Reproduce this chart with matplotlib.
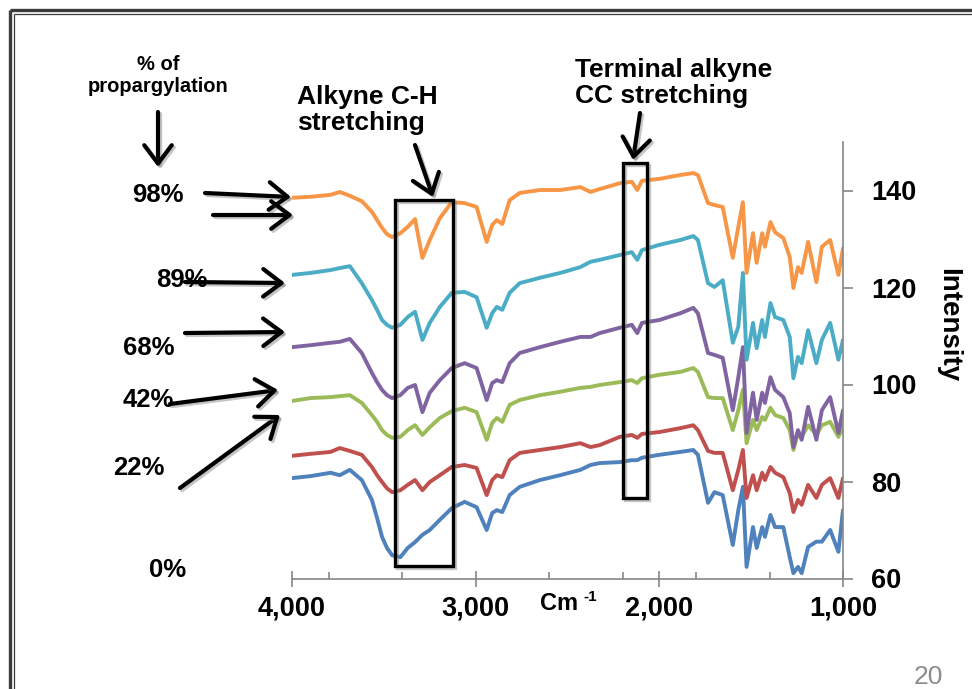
import matplotlib
matplotlib.use('Agg')
import matplotlib.pyplot as plt
import matplotlib.patheffects as pe
from matplotlib.patches import Rectangle, FancyArrowPatch
from matplotlib.lines import Line2D

# FTIR spectra of propargylated samples (wavenumber in cm-1, offset intensity)
wavenumber = [4000, 3900, 3790, 3740, 3685, 3620, 3565, 3537, 3510, 3483, 3455, 3410,
              3370, 3330, 3290, 3250, 3195, 3130, 3060, 2995, 2940, 2910,
              2885, 2855, 2815, 2760, 2650, 2540, 2430, 2375, 2325, 2215,
              2150, 2120, 2095, 2000, 1885, 1815, 1790, 1735, 1700, 1655,
              1600, 1570, 1545, 1525, 1490, 1470, 1440, 1425, 1395, 1370,
              1325, 1290, 1270, 1245, 1225, 1190, 1145, 1115, 1070, 1025, 1000]

spec_98 = [138.5, 138.7, 139.1, 139.7, 138.9, 137.8, 135.6, 133.9, 132.3, 131.0, 130.4, 131.2,
           132.5, 134.1, 126.1, 129.8, 134.3, 137.6, 137.4, 136.6, 129.4, 132.9,
           133.9, 133.1, 138.0, 139.5, 140.1, 140.1, 140.7, 139.7, 140.3, 141.5,
           141.8, 140.1, 142.0, 142.4, 143.2, 143.6, 143.2, 137.4, 137.0, 136.6,
           126.1, 132.5, 137.6, 123.0, 131.2, 125.1, 131.2, 128.4, 133.5, 131.4,
           130.2, 126.3, 119.9, 124.2, 123.0, 129.4, 121.1, 128.4, 129.8, 122.6, 128.1]

spec_89 = [122.6, 123.0, 123.6, 124.0, 124.4, 120.9, 117.4, 115.4, 113.3, 112.3, 111.7, 112.3,
           113.9, 115.0, 109.2, 112.7, 116.0, 118.9, 119.1, 118.0, 111.7, 114.7,
           116.0, 115.4, 118.9, 120.9, 122.0, 123.0, 124.2, 125.3, 125.7, 126.7,
           127.3, 125.7, 127.7, 128.8, 129.8, 130.6, 129.8, 120.9, 120.1, 121.5,
           108.6, 111.9, 123.0, 105.1, 112.7, 107.5, 113.3, 109.8, 116.8, 113.9,
           113.3, 109.8, 101.3, 105.7, 104.4, 111.2, 104.4, 109.2, 112.7, 105.1, 109.2]

spec_68 = [107.7, 108.1, 108.6, 108.8, 109.4, 106.5, 102.4, 100.5, 98.9, 97.8, 97.2, 97.8,
           99.3, 99.9, 94.3, 98.3, 100.9, 103.4, 104.4, 103.4, 96.8, 100.3,
           100.9, 100.5, 104.4, 106.5, 107.7, 108.8, 109.8, 109.8, 110.6, 111.7,
           112.3, 110.6, 112.7, 113.3, 114.7, 115.8, 114.7, 106.5, 106.1, 105.5,
           94.7, 101.5, 107.7, 90.0, 98.3, 92.7, 98.3, 96.2, 101.5, 98.9,
           97.4, 94.1, 87.1, 90.6, 88.6, 95.4, 88.6, 94.7, 97.4, 90.0, 94.7]

spec_42 = [96.6, 97.2, 97.4, 97.6, 97.8, 96.2, 93.7, 92.3, 90.6, 89.6, 89.0, 89.2,
           90.6, 91.6, 89.6, 91.2, 93.1, 94.5, 95.2, 94.3, 88.6, 92.1,
           93.1, 92.3, 95.8, 96.8, 97.8, 98.5, 99.3, 99.5, 99.9, 100.5,
           100.9, 100.3, 101.3, 102.0, 102.6, 103.4, 102.6, 97.4, 97.2, 97.2,
           90.6, 94.7, 98.9, 87.9, 92.7, 90.6, 93.3, 92.7, 95.2, 93.7,
           93.1, 90.6, 86.5, 90.0, 89.2, 91.6, 89.6, 91.6, 92.3, 89.2, 91.2]

spec_22 = [85.3, 85.7, 86.1, 86.9, 86.3, 85.5, 83.0, 81.3, 79.9, 78.6, 77.8, 78.2,
           79.3, 80.3, 78.2, 79.9, 81.3, 83.0, 83.4, 82.8, 77.2, 80.3,
           81.3, 80.9, 84.4, 85.9, 86.5, 87.1, 87.9, 87.1, 87.5, 89.2,
           89.6, 89.0, 89.8, 90.2, 91.0, 91.6, 90.6, 86.3, 85.9, 85.9,
           78.2, 82.4, 86.5, 76.6, 81.3, 78.2, 81.8, 80.3, 83.0, 81.8,
           80.9, 77.6, 73.7, 76.2, 75.2, 79.3, 76.6, 79.3, 80.7, 76.6, 80.7]

spec_0 = [80.7, 81.1, 81.8, 81.3, 82.4, 80.3, 76.2, 72.5, 68.6, 66.3, 64.8, 64.4,
          66.3, 67.5, 69.0, 70.0, 72.1, 74.5, 75.8, 74.7, 70.0, 73.5,
          74.1, 73.7, 77.2, 78.9, 80.3, 81.3, 82.4, 83.4, 83.8, 84.0,
          84.4, 84.4, 84.9, 85.5, 86.1, 86.5, 85.5, 75.6, 77.8, 77.2,
          66.9, 74.1, 78.9, 62.4, 70.6, 66.3, 70.6, 68.6, 73.1, 70.6,
          70.6, 64.4, 61.1, 62.4, 61.1, 66.5, 67.6, 67.6, 70.0, 65.5, 74.1]

series = [spec_0, spec_22, spec_42, spec_68, spec_89, spec_98]
colors = ['#4F81BD', '#C0504D', '#9BBB59', '#8064A2', '#4BACC6', '#F79646']
pct_labels = ['0%', '22%', '42%', '68%', '89%', '98%']

x_major = [4000, 3000, 2000, 1000]
x_major_labels = ['4,000', '3,000', '2,000', '1,000']
x_minor = [3800, 3400, 2600, 2200, 1800, 1400]
y_ticks = [60, 80, 100, 120, 140]

# highlighted bands: (wavenumber right, wavenumber left, intensity bottom, intensity top)
ch_band = (3125, 3440, 62.6, 138.0)
cc_band = (2065, 2200, 76.6, 145.7)

W, H = 972, 689


def fx(px):
    return px / W


def fy(py):
    return 1 - py / H


plt.rcParams['font.family'] = ['Liberation Sans', 'DejaVu Sans']

fig = plt.figure(figsize=(W / 100, H / 100), dpi=100)
ax = fig.add_axes([fx(292), fy(578.5), (843 - 292) / W, (578.5 - 142) / H])

for vals, color in zip(series, colors):
    ax.plot(wavenumber, vals, color=color, lw=2.8, solid_joinstyle='round',
            solid_capstyle='round')

ax.set_xlim(4000, 1000)
ax.set_ylim(60, 150)

axis_grey = '#868686'
for side in ['top', 'left']:
    ax.spines[side].set_visible(False)
for side in ['bottom', 'right']:
    ax.spines[side].set_color(axis_grey)
    ax.spines[side].set_linewidth(1.2)

ax.yaxis.tick_right()
ax.set_yticks(y_ticks)
ax.tick_params(axis='y', direction='out', length=7, width=1.2, color=axis_grey,
               labelsize=19.5, pad=13)
ax.set_xticks(x_major)
ax.set_xticklabels(x_major_labels)
ax.set_xticks(x_minor, minor=True)
ax.tick_params(axis='x', which='major', direction='inout', length=12, width=1.2,
               color=axis_grey, labelsize=19.5, pad=6)
ax.tick_params(axis='x', which='minor', direction='in', length=5, width=1.2,
               color=axis_grey)
for lbl in ax.get_xticklabels() + ax.get_yticklabels():
    lbl.set_fontweight('bold')

shadow = [pe.SimpleLineShadow(offset=(1.5, -1.5), shadow_color='#808080', alpha=0.45),
          pe.Normal()]

# boxes around the alkyne bands
for x_r, x_l, y_b, y_t in [ch_band, cc_band]:
    ax.add_patch(Rectangle((x_r, y_b), x_l - x_r, y_t - y_b, fill=False, ec='black',
                           lw=2.4, clip_on=False, zorder=5, path_effects=shadow))

fig.text(fx(559), fy(604), 'Cm', fontsize=17, fontweight='bold', ha='center', va='center')
fig.text(fx(590), fy(597), '-1', fontsize=11, fontweight='bold', ha='center', va='center')
fig.text(fx(948), fy(325), 'Intensity', fontsize=20, fontweight='bold', rotation=270,
         ha='center', va='center')

# annotation text
fig.text(fx(158), fy(64), '% of', fontsize=14.5, fontweight='bold', ha='center', va='center')
fig.text(fx(158), fy(87), 'propargylation', fontsize=14.5, fontweight='bold',
         ha='center', va='center')
fig.text(fx(297), fy(110), 'Alkyne C-H\nstretching', fontsize=19, fontweight='bold',
         ha='left', va='center', linespacing=1.1)
fig.text(fx(575), fy(83), 'Terminal alkyne\nCC stretching', fontsize=19, fontweight='bold',
         ha='left', va='center', linespacing=1.1)

pct_pos = [(168, 570), (139, 468), (148, 400), (149, 348), (182, 280), (158, 195)]
for lbl, (px, py) in zip(pct_labels, pct_pos):
    fig.text(fx(px), fy(py), lbl, fontsize=18.5, fontweight='bold', ha='center', va='center')


def arrow(x0, y0, x1, y1):
    fig.add_artist(FancyArrowPatch((fx(x0), fy(y0)), (fx(x1), fy(y1)),
                                   transform=fig.transFigure,
                                   arrowstyle='->,head_length=0.6,head_width=0.45',
                                   mutation_scale=22, lw=3, color='black',
                                   shrinkA=0, shrinkB=0, path_effects=shadow))


arrow(158, 112, 158, 167)
arrow(205, 193, 291, 197)
arrow(213, 215, 293, 215)
arrow(185, 282, 285, 283)
arrow(185, 333, 285, 332)
arrow(170, 404, 278, 390)
arrow(180, 488, 280, 415)
arrow(415, 145, 433, 197)
arrow(640, 113, 633, 160)

# slide border
frame = dict(color='#3a3a3a', transform=fig.transFigure, solid_capstyle='butt')
fig.add_artist(Line2D([fx(10), fx(10)], [0, fy(10)], lw=2.4, **frame))
fig.add_artist(Line2D([fx(10), 1], [fy(10), fy(10)], lw=2.4, **frame))
fig.add_artist(Line2D([fx(13.5), fx(13.5)], [0, fy(13.5)], lw=0.9, **frame))
fig.add_artist(Line2D([fx(13.5), 1], [fy(13.5), fy(13.5)], lw=0.9, **frame))

fig.text(fx(928), fy(677), '20', fontsize=19, color='#8C8C8C', ha='center', va='center')

fig.savefig('out.png', dpi=100)
